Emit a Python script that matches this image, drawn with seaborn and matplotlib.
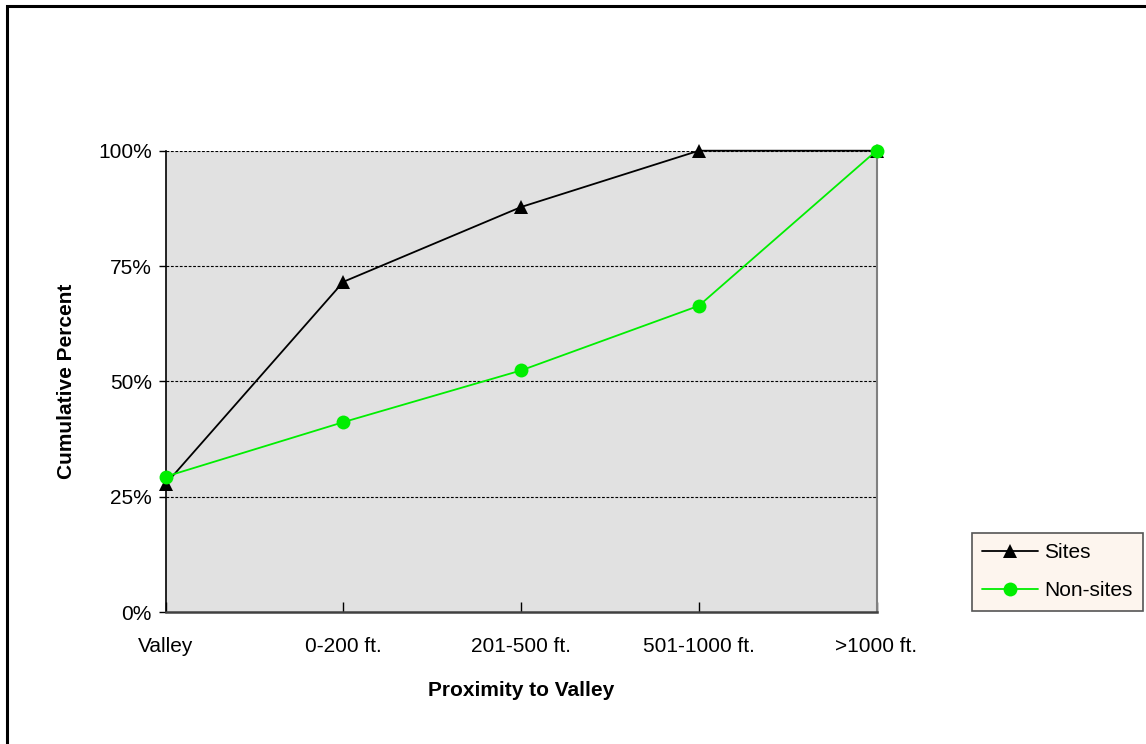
import matplotlib
matplotlib.use("Agg")
import matplotlib.pyplot as plt
import matplotlib.patches as mpatches
from matplotlib.ticker import FuncFormatter
import seaborn as sns
import pandas as pd

# Cumulative share of sites / non-sites by distance class
categories = ["Valley", "0-200 ft.", "201-500 ft.", "501-1000 ft.", ">1000 ft."]
sites = [0.278, 0.716, 0.878, 1.0, 1.0]
non_sites = [0.294, 0.412, 0.524, 0.664, 1.0]
series_names = ["Sites", "Non-sites"]

df = pd.DataFrame({
    "Proximity": categories * 2,
    "Percent": sites + non_sites,
    "Series": [series_names[0]] * len(categories) + [series_names[1]] * len(categories),
})
df["x"] = list(range(len(categories))) * 2

sns.set_theme(style="white")
plt.rcParams["font.family"] = ["Liberation Sans", "DejaVu Sans"]
plt.rcParams["text.color"] = "black"
plt.rcParams["axes.labelcolor"] = "black"
plt.rcParams["xtick.color"] = "black"
plt.rcParams["ytick.color"] = "black"

FS = 15

fig = plt.figure(figsize=(11.46, 7.44), dpi=100)
W, H = 1146, 744
left, right, top, bottom = 165.7, 876.5, 150.7, 612.3
ax = fig.add_axes([left / W, 1 - bottom / H, (right - left) / W, (bottom - top) / H])
ax.set_facecolor("#E1E1E1")

palette = {"Sites": "#000000", "Non-sites": "#00EE00"}
markers = {"Sites": "^", "Non-sites": "o"}
sns.lineplot(data=df, x="x", y="Percent", hue="Series", style="Series",
             palette=palette, markers=markers, dashes=False,
             markersize=10, markeredgewidth=0, linewidth=1.3,
             ax=ax, legend=False, sort=False, clip_on=False, zorder=3)

ax.set_xlim(0, len(categories) - 1)
ax.set_ylim(0, 1)
ax.set_xticks(range(len(categories)))
ax.set_xticklabels(categories)
ax.set_yticks([0, 0.25, 0.5, 0.75, 1.0])
ax.yaxis.set_major_formatter(FuncFormatter(lambda v, p: f"{v*100:.0f}%"))

for yv in [0.25, 0.5, 0.75, 1.0]:
    ax.axhline(yv, color="#000000", lw=0.8, ls=(0, (2.5, 1.5)), zorder=1)

ax.tick_params(axis="x", direction="in", length=7, width=1, color="#000000",
               labelsize=FS, pad=18, bottom=True)
ax.tick_params(axis="y", direction="out", length=5, width=1, color="#000000",
               labelsize=FS, pad=5, left=True)

ax.spines["top"].set_visible(False)
ax.spines["left"].set_color("#000000")
ax.spines["left"].set_linewidth(1.2)
ax.spines["bottom"].set_color("#404040")
ax.spines["bottom"].set_linewidth(1.8)
ax.spines["right"].set_color("#808080")
ax.spines["right"].set_linewidth(1.5)

ax.set_xlabel("Proximity to Valley", fontsize=FS, fontweight="bold", labelpad=18)
ax.set_ylabel("Cumulative Percent", fontsize=FS, fontweight="bold", labelpad=16)

handles = [
    plt.Line2D([], [], color=palette[s], marker=markers[s], markersize=10,
               markeredgewidth=0, lw=1.3, label=s)
    for s in series_names
]
leg = fig.legend(handles=handles, loc="upper left",
                 bbox_to_anchor=(972 / W, 1 - 533 / H), fontsize=FS,
                 frameon=True, fancybox=False, handlelength=2.65,
                 handletextpad=0.3, labelspacing=0.9, borderpad=0.5,
                 borderaxespad=0)
leg.get_frame().set_facecolor("#FDF5EE")
leg.get_frame().set_edgecolor("#555555")
leg.get_frame().set_linewidth(1.2)
leg.get_frame().set_alpha(1)

# outer frame
fig.patches.append(mpatches.Rectangle((7 / W, -0.1), 1.2, (H - 6) / H + 0.1,
                                      transform=fig.transFigure, fill=False,
                                      edgecolor="#000000", lw=2.2))

fig.savefig("out.png", dpi=100, facecolor="white")
